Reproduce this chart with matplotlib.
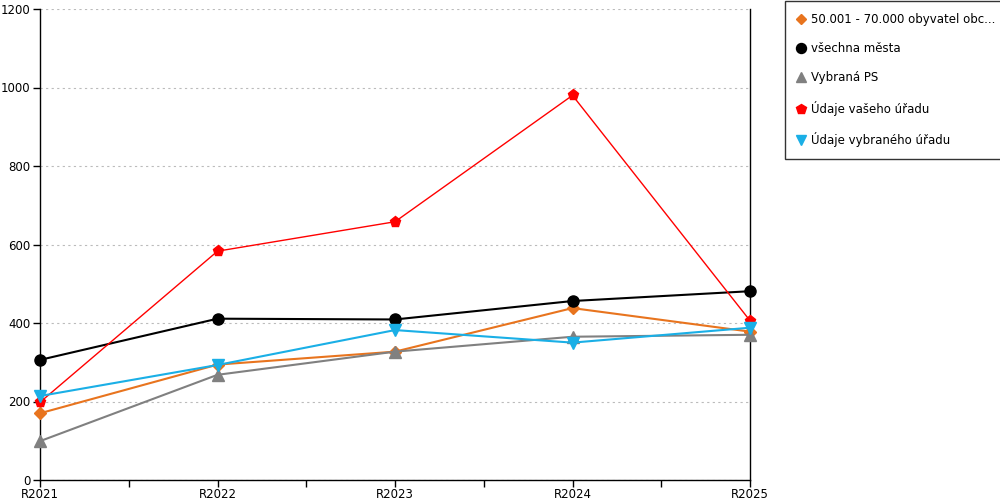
import matplotlib
matplotlib.use("Agg")
import matplotlib.pyplot as plt
from matplotlib.ticker import MultipleLocator, FixedLocator

categories = ["R2021", "R2022", "R2023", "R2024", "R2025"]
orange_vals = [170, 294, 327, 438, 378]
black_vals = [306, 411, 409, 456, 481]
gray_vals = [99, 268, 327, 365, 370]
red_vals = [198, 583, 658, 980, 406]
cyan_vals = [214, 293, 382, 350, 388]

series = [
    ("50.001 - 70.000 obyvatel obc...", orange_vals, "#E8741E", "D", 6, 1.5),
    ("všechna města", black_vals, "#000000", "o", 8, 1.5),
    ("Vybraná PS", gray_vals, "#808080", "^", 8, 1.5),
    ("Údaje vašeho úřadu", red_vals, "#FF0000", "p", 8, 1.0),
    ("Údaje vybraného úřadu", cyan_vals, "#1AAFE6", "v", 8, 1.5),
]

plt.rcParams['font.family'] = ['DejaVu Sans']
fig = plt.figure(figsize=(10, 5), dpi=100)
ax = fig.add_axes([0.04, 0.04, 0.71, 0.942])

x = list(range(len(categories)))
handles = []
for label, vals, color, marker, ms, lw in series:
    h, = ax.plot(x, vals, color=color, marker=marker, markersize=ms, linewidth=lw,
                 label=label, clip_on=False, zorder=3)
    handles.append(h)

ax.set_xlim(0, len(categories) - 1)
ax.set_ylim(0, 1200)
ax.yaxis.set_major_locator(MultipleLocator(200))
ax.set_xticks(x)
ax.set_xticklabels(categories)
ax.xaxis.set_minor_locator(FixedLocator([i + 0.5 for i in range(len(categories) - 1)]))
ax.tick_params(axis='x', which='both', direction='out', length=5, width=1, labelsize=8.5, pad=0.5)
ax.tick_params(axis='y', direction='out', length=5, width=1, labelsize=8.5, pad=2)
ax.grid(axis='y', color='#BBBBBB', linestyle=(0, (2, 3)), linewidth=0.8)
ax.set_axisbelow(True)
ax.spines['top'].set_visible(False)
for s in ['left', 'right', 'bottom']:
    ax.spines[s].set_color('black')
    ax.spines[s].set_linewidth(1)

leg = fig.legend(handles=handles, loc='upper left', bbox_to_anchor=(0.785, 0.998),
                 frameon=True, fancybox=False, edgecolor='black', fontsize=8.5,
                 handlelength=0.7, handletextpad=0.5, labelspacing=1.38,
                 borderpad=1.0, markerscale=0.9, borderaxespad=0)
for line in leg.get_lines():
    line.set_linestyle('none')
leg.get_frame().set_linewidth(1)

fig.savefig("out.png", dpi=100)
